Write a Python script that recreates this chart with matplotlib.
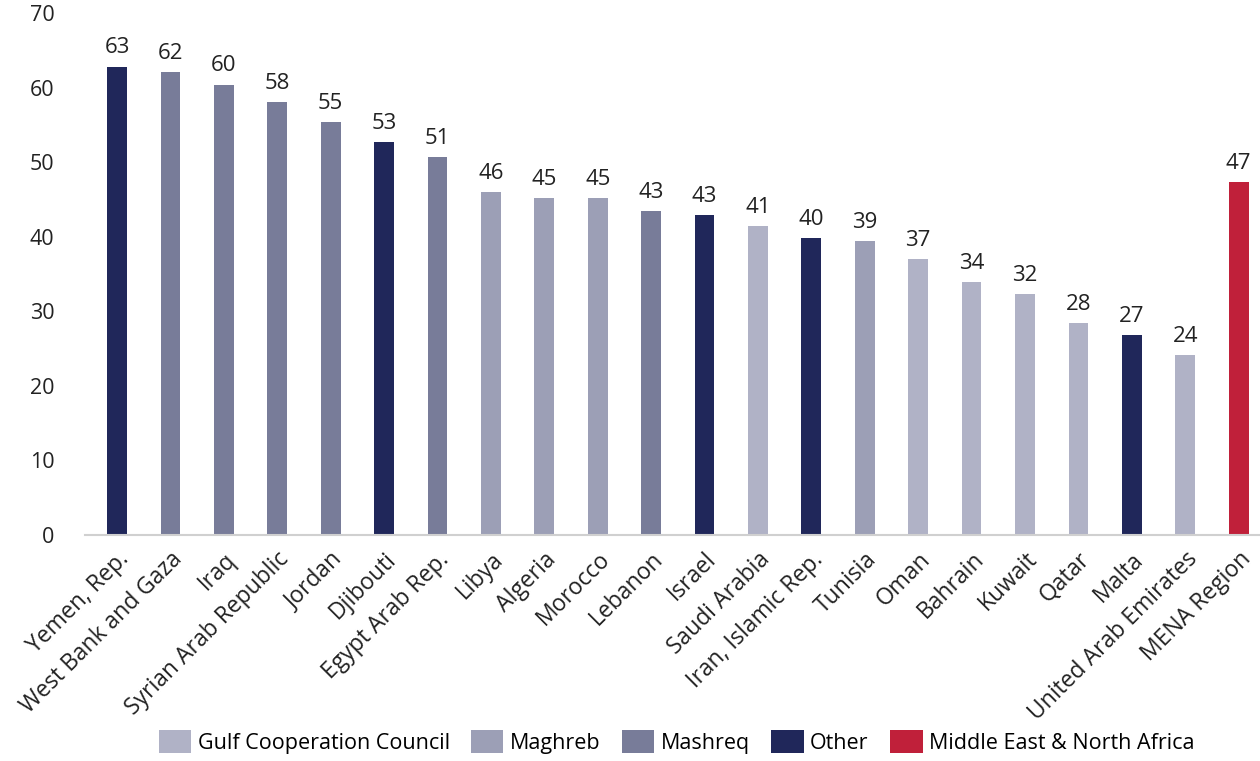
import matplotlib
matplotlib.use("Agg")
import matplotlib.pyplot as plt
from matplotlib.patches import Patch

plt.rcParams['font.family'] = ['Open Sans', 'DejaVu Sans']

countries = ["Yemen, Rep.", "West Bank and Gaza", "Iraq", "Syrian Arab Republic", "Jordan",
             "Djibouti", "Egypt Arab Rep.", "Libya", "Algeria", "Morocco", "Lebanon", "Israel",
             "Saudi Arabia", "Iran, Islamic Rep.", "Tunisia", "Oman", "Bahrain", "Kuwait",
             "Qatar", "Malta", "United Arab Emirates", "MENA Region"]
values = [62.8, 62.1, 60.4, 58.1, 55.4, 52.7, 50.7, 46.0, 45.2, 45.2, 43.4, 42.9,
          41.4, 39.8, 39.4, 37.0, 33.9, 32.3, 28.4, 26.8, 24.1, 47.3]
groups = ["Other", "Mashreq", "Mashreq", "Mashreq", "Mashreq", "Other", "Mashreq",
          "Maghreb", "Maghreb", "Maghreb", "Mashreq", "Other", "Gulf Cooperation Council",
          "Other", "Maghreb", "Gulf Cooperation Council", "Gulf Cooperation Council",
          "Gulf Cooperation Council", "Gulf Cooperation Council", "Other",
          "Gulf Cooperation Council", "Middle East & North Africa"]
group_names = ["Gulf Cooperation Council", "Maghreb", "Mashreq", "Other", "Middle East & North Africa"]
group_colors = {"Gulf Cooperation Council": "#b0b2c6", "Maghreb": "#9c9fb6",
                "Mashreq": "#787c99", "Other": "#20275a",
                "Middle East & North Africa": "#c0203a"}
yticks = [0, 10, 20, 30, 40, 50, 60, 70]

fig = plt.figure(figsize=(12.6, 7.61), dpi=100)
ax = fig.add_axes([85/1260, (761-535)/761, 1 - 85/1260, (535-13)/761])

x = list(range(len(countries)))
cols = [group_colors[g] for g in groups]
ax.bar(x, values, width=0.37, color=cols, zorder=2)
for xi, v in zip(x, values):
    ax.text(xi, v + 1.1, f"{round(v):d}", ha='center', va='bottom', fontsize=16, color='#222222')

ax.set_xlim(-0.6, 21.4)
ax.set_ylim(0, 70)
ax.set_yticks(yticks)
ax.set_yticklabels([str(t) for t in yticks], fontsize=15.5, color='#222222')
ax.tick_params(axis='y', length=0, pad=22)
ax.set_xticks(x)
ax.set_xticklabels(countries, rotation=45, ha='right', va='top', rotation_mode='anchor',
                   fontsize=16.5, color='#222222')
ax.tick_params(axis='x', length=0, pad=9)
for s in ['top', 'right', 'left']:
    ax.spines[s].set_visible(False)
ax.spines['bottom'].set_color('#d0d0d0')
ax.spines['bottom'].set_linewidth(1.5)

handles = [Patch(facecolor=group_colors[g], label=g) for g in group_names]
fig.legend(handles=handles, loc='center', bbox_to_anchor=(0.537, 0.025), ncol=5,
           frameon=False, fontsize=15.5, handlelength=1.5, handleheight=1.3,
           handletextpad=0.3, columnspacing=1.0)

fig.savefig("out.png", dpi=100)
